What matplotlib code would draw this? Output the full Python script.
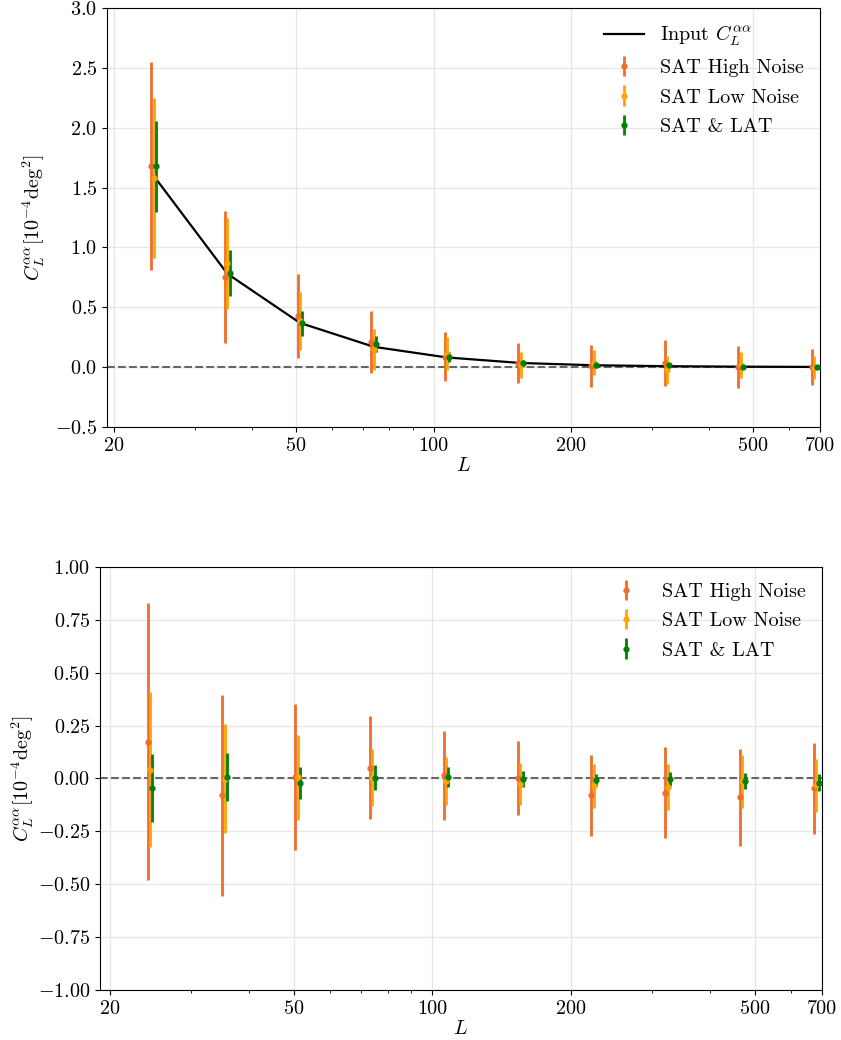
import numpy as np
import matplotlib
matplotlib.use("Agg")
import matplotlib.pyplot as plt
from matplotlib.ticker import FixedLocator, FixedFormatter, LogLocator, NullFormatter

plt.rcParams["font.family"] = "serif"
plt.rcParams["font.serif"] = ["cmr10", "DejaVu Serif"]
plt.rcParams["mathtext.fontset"] = "cm"
plt.rcParams["axes.formatter.use_mathtext"] = True
plt.rcParams["font.size"] = 14.5

# ------------------------------------------------------------
# Data
# ------------------------------------------------------------
L = np.array([24.4, 35.4, 51.0, 74.0, 107.0, 155.0, 224.0, 324.0, 470.0, 680.0])
cl_input = np.array([1.60, 0.78, 0.37, 0.17, 0.081, 0.035, 0.016, 0.008, 0.004, 0.002])

# top panel: C_L estimates
high_top = np.array([1.68, 0.755, 0.429, 0.212, 0.086, 0.036, 0.008, 0.036, 0.003, 0.003])
high_top_err = np.array([0.87, 0.55, 0.35, 0.26, 0.205, 0.17, 0.175, 0.19, 0.177, 0.152])
low_top = np.array([1.58, 0.866, 0.384, 0.15, 0.114, 0.017, 0.038, -0.02, 0.017, -0.005])
low_top_err = np.array([0.665, 0.38, 0.24, 0.17, 0.14, 0.11, 0.105, 0.117, 0.11, 0.097])
both_top = np.array([1.677, 0.788, 0.365, 0.192, 0.086, 0.031, 0.014, 0.014, 0.003, 0.0])
both_top_err = np.array([0.38, 0.19, 0.107, 0.067, 0.042, 0.028, 0.02, 0.017, 0.015, 0.013])

# bottom panel: residuals
high_bot = np.array([0.173, -0.080, 0.006, 0.051, 0.015, 0.004, -0.080, -0.067, -0.089, -0.046])
high_bot_err = np.array([0.655, 0.476, 0.344, 0.243, 0.211, 0.175, 0.19, 0.215, 0.228, 0.215])
low_bot = np.array([0.042, -0.002, 0.006, 0.004, -0.012, -0.026, -0.035, -0.039, -0.014, -0.033])
low_bot_err = np.array([0.366, 0.258, 0.2, 0.136, 0.113, 0.1, 0.103, 0.108, 0.125, 0.124])
both_bot = np.array([-0.046, 0.006, -0.021, 0.004, 0.007, -0.001, -0.007, -0.002, -0.013, -0.02])
both_bot_err = np.array([0.16, 0.113, 0.077, 0.058, 0.047, 0.038, 0.03, 0.034, 0.038, 0.04])

labels = ["SAT High Noise", "SAT Low Noise", "SAT & LAT"]
colors = ["#ef6c2a", "#ffa500", "#008000"]
shifts = [0.988, 1.0, 1.012]

xticks = [20, 50, 100, 200, 500, 700]

# ------------------------------------------------------------
# Figure
# ------------------------------------------------------------
fig = plt.figure(figsize=(8.41, 10.4), dpi=100)
ax1 = fig.add_axes([0.1272, 0.5894, 0.8478, 0.4029])
ax2 = fig.add_axes([0.1189, 0.0481, 0.8585, 0.4067])


def style_axis(ax, xlim, ypad):
    ax.set_xscale("log")
    ax.set_xlim(xlim)
    ax.xaxis.set_major_locator(FixedLocator(xticks))
    ax.xaxis.set_major_formatter(FixedFormatter([str(t) for t in xticks]))
    ax.xaxis.set_minor_locator(LogLocator(base=10, subs=np.arange(2, 10)))
    ax.xaxis.set_minor_formatter(NullFormatter())
    ax.grid(True, which="major", color="#e6e6e6", lw=0.9)
    ax.set_axisbelow(True)
    ax.axhline(0, color="#666666", ls="--", lw=1.5, zorder=1)
    ax.set_xlabel(r"$L$", labelpad=2)
    ax.set_ylabel(r"$C_L^{\alpha\alpha}[10^{-4}\mathrm{deg}^2]$", labelpad=ypad)


# top panel
style_axis(ax1, (19.3, 700), 6)
ax1.plot(L, cl_input, color="black", lw=1.6, label=r"Input $C_L^{\alpha\alpha}$", zorder=3)
top_sets = [(high_top, high_top_err), (low_top, low_top_err), (both_top, both_top_err)]
for (y, e), lab, c, s in zip(top_sets, labels, colors, shifts):
    ax1.errorbar(L * s, y, yerr=e, fmt="o", ms=3.5, color=c, elinewidth=2, capsize=0, label=lab, zorder=4)
ax1.set_ylim(-0.5, 3.0)
ax1.set_yticks(np.arange(-0.5, 3.01, 0.5))
ax1.legend(loc="upper right", frameon=False, fontsize=14.5, labelspacing=0.55, borderaxespad=0.4)

# bottom panel
style_axis(ax2, (19.0, 700), 1)
bot_sets = [(high_bot, high_bot_err), (low_bot, low_bot_err), (both_bot, both_bot_err)]
for (y, e), lab, c, s in zip(bot_sets, labels, colors, shifts):
    ax2.errorbar(L * s, y, yerr=e, fmt="o", ms=3.5, color=c, elinewidth=2, capsize=0, label=lab, zorder=4)
ax2.set_ylim(-1.0, 1.0)
ax2.set_yticks(np.arange(-1.0, 1.01, 0.25))
ax2.legend(loc="upper right", frameon=False, fontsize=14.5, labelspacing=0.55, borderaxespad=0.4)

fig.savefig("out.png", dpi=100)
